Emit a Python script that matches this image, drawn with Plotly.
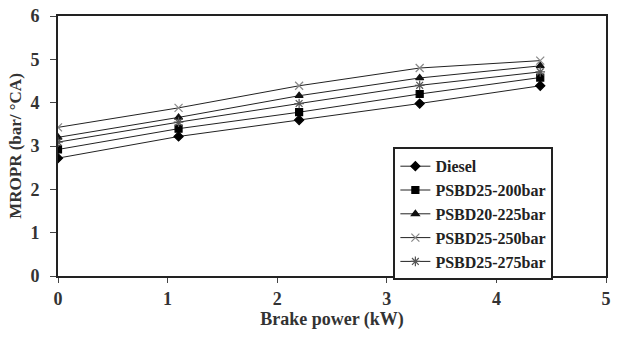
import plotly.graph_objects as go

brake_power = [0, 1.1, 2.2, 3.3, 4.4]
diesel = [2.72, 3.22, 3.60, 3.98, 4.39]
psbd25_200 = [2.92, 3.40, 3.78, 4.20, 4.58]
psbd20_225 = [3.20, 3.66, 4.16, 4.57, 4.85]
psbd25_250 = [3.43, 3.88, 4.39, 4.80, 4.97]
psbd25_275 = [3.09, 3.55, 3.98, 4.40, 4.71]

names = ["Diesel", "PSBD25-200bar", "PSBD20-225bar", "PSBD25-250bar", "PSBD25-275bar"]
series = [diesel, psbd25_200, psbd20_225, psbd25_250, psbd25_275]
symbols = ["diamond", "square", "triangle-up", "x-thin-open", "asterisk-open"]
mcolors = ["#000000", "#000000", "#111111", "#888888", "#555555"]
msizes = [7, 7, 7, 8, 8]

fig = go.Figure()
for n, s, sym, c, sz in zip(names, series, symbols, mcolors, msizes):
    fig.add_trace(go.Scatter(
        x=brake_power, y=s, name=n, mode="lines+markers",
        line=dict(color="#222222", width=1),
        marker=dict(symbol=sym, size=sz, color=c, line=dict(color=c, width=1.2)),
    ))

ff = "Times New Roman"
fig.update_layout(
    width=617, height=338,
    margin=dict(l=58, r=6, t=15, b=62),
    paper_bgcolor="white", plot_bgcolor="white",
    font=dict(family=ff, size=18, color="#222222"),
    showlegend=True,
    legend=dict(
        x=0.612, y=0.495, xanchor="left", yanchor="top",
        bgcolor="white", bordercolor="#222222", borderwidth=2,
        font=dict(family=ff, size=16, color="#222222", weight="bold"),
        tracegroupgap=0, itemwidth=30,
    ),
    xaxis=dict(
        range=[0, 5], dtick=1, tick0=0,
        showgrid=False, zeroline=False,
        showline=True, linecolor="#222222", linewidth=2, mirror=True,
        ticks="outside", ticklen=5, tickcolor="#444444",
        tickfont=dict(family=ff, size=18, color="#333333", weight="bold"),
        title=dict(text="<b>Brake power (kW)</b>", font=dict(family=ff, size=18, color="#333333"), standoff=4),
    ),
    yaxis=dict(
        range=[0, 6], dtick=1, tick0=0,
        showgrid=False, zeroline=False,
        showline=True, linecolor="#222222", linewidth=2, mirror=True,
        ticks="outside", ticklen=6, tickcolor="#444444", ticklabelstandoff=7,
        tickfont=dict(family=ff, size=18, color="#333333", weight="bold"),
        title=dict(text="<b>MROPR (bar/ °CA)</b>", font=dict(family=ff, size=17, color="#333333"), standoff=4),
    ),
)

fig.write_html("out.html")
